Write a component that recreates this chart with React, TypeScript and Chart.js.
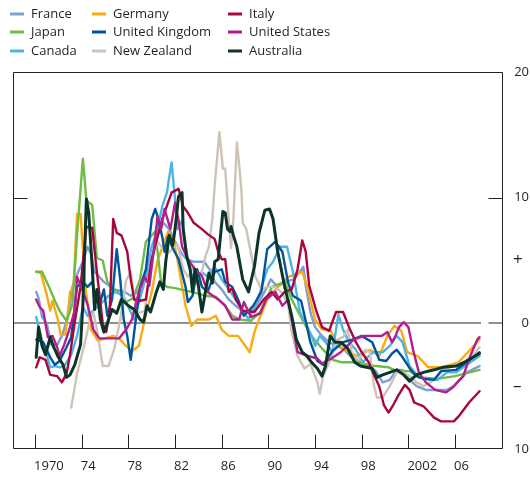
import React, { useEffect, useRef } from "react";
import { Chart, registerables } from "chart.js";

Chart.register(...registerables);

// ---- Data: [year, value] pairs ----
const france: [number, number][] = [
  [1970.1, 2.5], [1970.3, 2.0], [1970.6, 0.5], [1971.0, 0.0], [1971.4, -1.7], [1971.9, -1.7], [1972.3, -1.0], [1972.8, 0.5], [1973.2, 2.9], [1973.7, 4.1],
  [1974.1, 4.9], [1974.5, 6.1], [1974.8, 5.5], [1975.1, 4.1], [1975.9, 3.3], [1976.8, 2.7], [1977.7, 2.5], [1978.2, 2.2], [1978.8, 2.5], [1979.5, 3.5],
  [1980.0, 5.0], [1980.5, 7.0], [1981.0, 8.0], [1981.5, 7.5], [1982.0, 6.5], [1982.6, 5.5], [1983.0, 5.1], [1983.6, 4.9], [1984.5, 4.9], [1985.1, 4.1],
  [1985.4, 3.3], [1986.0, 2.7], [1986.6, 1.9], [1987.2, 1.4], [1988.0, 0.8], [1988.7, 1.1], [1989.3, 1.9], [1989.9, 2.9], [1990.2, 3.5], [1990.8, 2.9],
  [1991.4, 3.3], [1992.2, 3.5], [1992.7, 4.1], [1993.0, 4.5], [1993.2, 3.0], [1993.6, 0.9], [1994.0, -0.3], [1994.6, -1.0], [1995.2, -1.5], [1995.9, -1.8],
  [1996.5, -2.1], [1997.0, -2.6], [1997.9, -3.1], [1998.7, -3.4], [1999.2, -3.8], [1999.8, -4.7], [2000.4, -4.5], [2001.0, -3.7], [2001.5, -3.7], [2002.1, -4.5],
  [2002.7, -5.0], [2003.5, -5.3], [2004.3, -5.3], [2005.3, -5.3], [2005.9, -5.0], [2006.4, -4.5], [2007.0, -3.9], [2008.1, -3.4],
];

const germany: [number, number][] = [
  [1970.1, 4.1], [1970.5, 4.0], [1971.0, 2.3], [1971.3, 1.0], [1971.5, 1.8], [1971.9, 0.5], [1972.2, -0.9], [1972.6, -0.9], [1972.8, 0.7], [1973.0, 2.5],
  [1973.3, 2.9], [1973.6, 8.7], [1973.9, 8.7], [1974.3, 3.0], [1974.8, -0.5], [1975.4, -1.4], [1976.0, -1.2], [1976.7, -1.0], [1977.2, -1.2], [1977.8, -1.8],
  [1978.3, -2.2], [1978.9, -1.8], [1979.4, 0.3], [1980.0, 2.5], [1980.5, 5.0], [1981.4, 7.3], [1981.9, 6.5], [1982.2, 5.1], [1982.9, 1.4], [1983.4, -0.2],
  [1983.9, 0.3], [1984.9, 0.3], [1985.5, 0.6], [1986.0, -0.5], [1986.6, -1.0], [1987.4, -1.0], [1987.8, -1.5], [1988.4, -2.3], [1988.8, -0.7], [1989.2, 0.3],
  [1989.9, 1.9], [1990.8, 2.9], [1991.7, 3.7], [1992.9, 4.1], [1993.3, 3.0], [1994.0, 0.3], [1994.6, -0.5], [1995.3, -0.5], [1995.8, -1.5], [1996.5, -2.1],
  [1997.6, -2.6], [1998.7, -2.1], [1999.5, -2.6], [2000.2, -1.0], [2000.8, -0.2], [2001.4, -0.6], [2001.9, -2.3], [2002.8, -2.6], [2003.7, -3.5], [2004.8, -3.5],
  [2006.3, -3.1], [2007.1, -2.3], [2008.1, -1.3],
];

const italy: [number, number][] = [
  [1970.1, -3.5], [1970.4, -2.7], [1970.9, -2.9], [1971.3, -4.1], [1971.9, -4.2], [1972.3, -4.7], [1972.7, -4.0], [1973.0, -2.5], [1973.4, 0.1], [1973.9, 2.9],
  [1974.4, 7.7], [1974.9, 7.6], [1975.3, 4.1], [1975.8, 0.0], [1976.1, -0.7], [1976.4, 1.0], [1976.7, 8.3], [1977.0, 7.2], [1977.4, 7.0], [1977.9, 5.7],
  [1978.2, 3.5], [1978.5, 1.9], [1979.0, 1.8], [1979.5, 1.9], [1980.0, 5.1], [1980.9, 8.3], [1981.7, 10.4], [1982.3, 10.7], [1982.7, 9.3], [1983.1, 8.8],
  [1983.6, 8.0], [1984.3, 7.5], [1984.8, 7.1], [1985.4, 6.7], [1985.7, 5.7], [1986.0, 5.1], [1986.3, 5.1], [1986.6, 2.5], [1986.9, 2.8], [1987.2, 1.9],
  [1987.8, 1.0], [1988.8, 0.9], [1989.6, 1.9], [1990.3, 2.5], [1990.8, 1.9], [1991.4, 2.5], [1992.0, 2.7], [1992.5, 4.3], [1992.9, 6.6], [1993.2, 5.7],
  [1993.5, 3.0], [1994.1, 1.0], [1994.6, -0.3], [1995.2, -0.6], [1995.8, 0.9], [1996.4, 0.9], [1997.0, -0.5], [1997.5, -1.5], [1998.0, -2.3], [1998.6, -3.1],
  [1999.1, -4.2], [1999.5, -5.0], [1999.9, -6.5], [2000.3, -7.1], [2000.7, -6.5], [2001.1, -5.8], [2001.7, -4.9], [2002.1, -5.3], [2002.5, -6.3], [2003.3, -6.6],
  [2004.2, -7.5], [2004.8, -7.8], [2005.9, -7.8], [2006.4, -7.3], [2007.2, -6.3], [2008.1, -5.4],
];

const japan: [number, number][] = [
  [1970.1, 4.1], [1970.6, 4.1], [1971.2, 2.9], [1971.7, 1.8], [1972.1, 1.0], [1972.7, 0.2], [1973.2, 1.5], [1973.6, 7.0], [1974.1, 13.1], [1974.4, 9.8],
  [1974.9, 9.4], [1975.3, 5.2], [1975.8, 5.0], [1976.2, 3.3], [1976.7, 2.7], [1977.4, 2.5], [1977.8, 1.7], [1978.4, 2.0], [1979.0, 3.5], [1979.5, 6.5],
  [1980.3, 7.3], [1980.8, 3.3], [1981.3, 2.9], [1982.0, 2.8], [1983.4, 2.5], [1984.6, 2.2], [1985.5, 2.1], [1986.3, 1.4], [1986.9, 0.6], [1987.6, 0.3],
  [1988.5, 0.2], [1989.3, 0.9], [1990.3, 2.9], [1991.4, 3.3], [1992.0, 1.9], [1992.9, 0.3], [1993.7, -1.0], [1994.6, -2.0], [1995.5, -2.9], [1996.3, -3.1],
  [1997.5, -3.1], [1999.2, -3.4], [2000.3, -3.5], [2001.0, -3.8], [2002.1, -3.8], [2002.9, -4.3], [2004.6, -4.4], [2006.0, -4.2], [2008.1, -3.7],
];

const unitedKingdom: [number, number][] = [
  [1970.1, -1.3], [1970.7, -1.5], [1971.3, -2.7], [1971.7, -3.3], [1972.1, -3.0], [1972.7, -1.9], [1973.1, -1.1], [1973.6, 2.9], [1974.1, 3.3], [1974.5, 2.9],
  [1974.9, 3.3], [1975.2, 1.9], [1975.5, 1.4], [1975.9, 2.7], [1976.2, 0.6], [1976.6, 1.9], [1977.0, 5.9], [1977.3, 3.5], [1977.6, 0.3], [1977.9, -1.0],
  [1978.2, -2.9], [1978.5, -0.7], [1979.0, 2.9], [1979.5, 4.3], [1980.0, 8.3], [1980.3, 9.1], [1980.5, 8.5], [1980.9, 6.9], [1981.1, 5.7], [1981.4, 6.9],
  [1981.8, 6.0], [1982.3, 5.1], [1982.9, 2.9], [1983.1, 1.7], [1983.5, 2.2], [1983.9, 4.3], [1984.3, 2.9], [1984.8, 2.5], [1985.4, 4.1], [1986.0, 4.3],
  [1986.3, 3.3], [1986.9, 2.9], [1987.4, 1.9], [1987.9, 0.6], [1988.7, 1.4], [1989.4, 2.5], [1989.9, 5.9], [1990.6, 6.5], [1991.2, 5.7], [1991.7, 3.2],
  [1992.1, 2.2], [1992.8, 1.8], [1993.1, 0.6], [1993.6, -1.5], [1994.2, -3.0], [1994.7, -3.3], [1995.5, -2.2], [1996.4, -1.5], [1997.2, -1.3], [1998.0, -1.0],
  [1998.9, -1.5], [1999.5, -2.9], [2000.1, -3.0], [2000.6, -2.4], [2001.0, -2.1], [2001.5, -2.7], [2002.2, -3.7], [2002.7, -4.2], [2003.3, -4.4], [2004.2, -4.5],
  [2004.8, -3.8], [2006.1, -3.7], [2007.0, -3.1], [2008.1, -2.3],
];

const unitedStates: [number, number][] = [
  [1970.1, 1.9], [1970.4, 1.3], [1970.7, 1.0], [1971.1, -1.1], [1971.5, -1.0], [1971.9, -1.9], [1972.1, -2.6], [1972.5, -1.7], [1972.9, -0.6], [1973.4, 1.0],
  [1973.6, 3.7], [1974.0, 2.8], [1974.5, 1.5], [1975.0, -0.5], [1975.5, -1.2], [1976.5, -1.2], [1977.2, -1.2], [1977.8, -0.5], [1978.3, 0.3], [1978.9, 2.5],
  [1979.4, 3.7], [1979.8, 3.0], [1980.2, 6.0], [1980.5, 8.5], [1980.8, 7.5], [1981.1, 9.1], [1981.6, 7.5], [1982.0, 9.6], [1982.3, 8.2], [1982.6, 6.1],
  [1983.1, 5.1], [1983.7, 4.3], [1984.3, 3.8], [1984.8, 2.5], [1985.7, 1.9], [1986.3, 1.4], [1986.9, 0.3], [1987.5, 0.3], [1987.9, 1.7], [1988.5, 0.5],
  [1989.3, 0.8], [1989.8, 1.9], [1990.6, 2.5], [1991.2, 1.4], [1991.7, 1.9], [1992.0, 0.3], [1992.5, -2.3], [1993.4, -2.6], [1994.2, -2.8], [1994.6, -3.2],
  [1995.4, -2.8], [1996.2, -2.3], [1997.3, -1.3], [1998.2, -1.0], [1999.7, -1.0], [2000.2, -0.7], [2000.6, -1.5], [2000.9, -1.0], [2001.2, -0.3], [2001.6, 0.1],
  [2002.0, -0.3], [2002.4, -2.1], [2002.9, -3.9], [2003.5, -4.7], [2004.3, -5.3], [2005.2, -5.5], [2005.8, -5.1], [2006.7, -4.2], [2007.3, -2.6], [2007.9, -1.3],
  [2008.1, -1.1],
];

const canada: [number, number][] = [
  [1970.1, 0.5], [1970.3, -0.3], [1970.6, -1.4], [1971.0, -2.5], [1971.3, -3.5], [1971.7, -3.4], [1972.1, -3.5], [1972.5, -3.4], [1973.1, -2.5], [1973.6, -1.0],
  [1974.1, 1.3], [1974.5, 0.6], [1975.2, 1.2], [1975.8, 1.7], [1976.3, 2.2], [1976.9, 2.5], [1977.5, 2.2], [1978.0, 1.3], [1978.5, 0.3], [1979.0, 2.0],
  [1979.5, 3.7], [1980.0, 6.1], [1980.5, 7.5], [1980.9, 9.3], [1981.3, 10.4], [1981.7, 12.8], [1982.0, 9.9], [1982.2, 7.5], [1982.6, 8.2], [1982.9, 6.1],
  [1983.3, 4.1], [1983.7, 3.5], [1984.3, 4.1], [1984.8, 3.7], [1985.4, 4.5], [1986.0, 3.5], [1986.6, 2.7], [1987.2, 1.9], [1987.8, 1.1], [1988.3, 0.3],
  [1988.8, 1.3], [1989.3, 2.5], [1989.9, 4.3], [1990.4, 4.9], [1991.0, 6.1], [1991.6, 6.1], [1992.1, 4.1], [1992.7, 0.9], [1993.3, -0.2], [1993.7, -1.0],
  [1994.0, -1.8], [1994.4, -1.0], [1994.9, -1.5], [1995.5, -2.3], [1996.0, 0.7], [1996.4, -0.5], [1996.9, -1.5], [1997.5, -2.1], [1998.1, -3.1], [1998.6, -2.6],
  [1999.0, -2.3], [1999.8, -2.3], [2000.4, -1.8], [2001.0, -1.0], [2001.5, -1.5], [2002.1, -3.4], [2002.9, -4.3], [2003.8, -4.5], [2004.5, -4.5], [2005.3, -3.9],
  [2006.1, -3.9], [2007.0, -3.3], [2008.1, -2.6],
];

const newZealand: [number, number][] = [
  [1973.1, -6.7], [1973.6, -4.0], [1974.2, -1.8], [1974.7, 0.2], [1975.0, 0.9], [1975.4, -1.0], [1975.8, -3.4], [1976.3, -3.4], [1976.8, -2.0], [1977.3, 0.3],
  [1977.8, 3.4], [1978.2, 4.1], [1978.5, 2.0], [1978.8, 0.8], [1979.4, 1.0], [1980.0, 5.1], [1980.5, 6.5], [1981.3, 5.5], [1982.2, 6.3], [1982.7, 4.3],
  [1983.1, 3.7], [1983.6, 4.5], [1984.0, 3.0], [1984.6, 5.3], [1984.9, 6.1], [1985.2, 8.3], [1985.4, 11.0], [1985.8, 15.2], [1986.1, 12.3], [1986.3, 12.3],
  [1986.6, 8.3], [1986.8, 6.0], [1987.0, 8.3], [1987.3, 14.4], [1987.5, 12.6], [1987.7, 10.4], [1987.8, 8.0], [1988.1, 7.5], [1988.4, 6.1], [1988.6, 5.1],
  [1988.9, 3.7], [1989.4, 2.7], [1989.9, 2.9], [1990.6, 2.9], [1991.2, 2.4], [1991.7, 1.4], [1992.0, -0.7], [1992.5, -2.6], [1993.1, -3.6], [1993.6, -3.2],
  [1994.2, -4.7], [1994.4, -5.6], [1994.7, -4.2], [1995.3, -2.9], [1995.9, -1.3], [1996.4, -1.1], [1996.8, -0.5], [1997.2, -2.6], [1997.7, -2.9], [1998.3, -2.1],
  [1998.7, -2.3], [1999.0, -4.7], [1999.3, -5.9], [1999.8, -5.9], [2000.4, -5.0], [2001.0, -3.9], [2001.5, -3.9], [2002.1, -4.2], [2002.7, -4.7], [2003.3, -5.0],
  [2003.9, -4.7], [2004.5, -4.2], [2005.0, -3.7], [2005.8, -3.4], [2006.7, -3.1], [2007.5, -2.6], [2008.1, -1.9],
];

const australia: [number, number][] = [
  [1970.1, -2.7], [1970.3, -0.3], [1970.6, -1.8], [1970.9, -2.5], [1971.3, -1.1], [1971.6, -1.9], [1972.0, -2.7], [1972.4, -3.3], [1972.7, -4.3], [1973.0, -4.1],
  [1973.4, -3.3], [1973.9, -1.7], [1974.1, 1.5], [1974.4, 9.9], [1974.6, 8.8], [1974.9, 4.5], [1975.1, 1.1], [1975.3, 2.7], [1975.6, 0.3], [1975.9, -0.7],
  [1976.2, 0.0], [1976.6, 1.1], [1977.0, 0.8], [1977.4, 1.9], [1978.0, 1.4], [1978.5, 1.1], [1979.0, 0.3], [1979.3, 0.1], [1979.6, 1.4], [1979.9, 0.9],
  [1980.4, 2.5], [1980.7, 3.3], [1981.0, 2.7], [1981.2, 4.9], [1981.5, 7.0], [1981.8, 6.2], [1982.0, 7.5], [1982.3, 10.1], [1982.6, 10.4], [1982.7, 7.5],
  [1983.0, 5.3], [1983.3, 4.3], [1983.5, 2.5], [1983.7, 4.3], [1984.0, 3.0], [1984.3, 0.9], [1984.6, 2.5], [1984.9, 4.0], [1985.2, 3.2], [1985.4, 4.9],
  [1985.7, 5.1], [1986.1, 8.9], [1986.3, 8.8], [1986.5, 7.5], [1986.7, 7.3], [1986.8, 7.7], [1987.0, 7.0], [1987.3, 6.1], [1987.8, 3.5], [1988.3, 2.5],
  [1988.8, 4.5], [1989.2, 7.2], [1989.7, 9.0], [1990.1, 9.1], [1990.4, 8.3], [1990.8, 5.7], [1991.4, 2.9], [1992.0, 0.6], [1992.4, -1.3], [1992.9, -2.3],
  [1993.3, -2.6], [1993.7, -3.1], [1994.2, -3.6], [1994.6, -4.2], [1994.9, -3.4], [1995.3, -1.0], [1995.7, -1.5], [1996.2, -1.5], [1996.8, -2.0], [1997.4, -3.1],
  [1997.9, -3.4], [1998.9, -3.6], [1999.3, -4.3], [1999.8, -4.1], [2000.4, -3.9], [2001.0, -3.7], [2001.6, -4.1], [2002.1, -4.6], [2002.7, -4.1], [2003.3, -3.9],
  [2004.2, -3.7], [2005.0, -3.5], [2006.1, -3.4], [2007.0, -3.0], [2008.1, -2.4],
];

// ---- Series names, colours ----
const seriesNames = ["France", "Germany", "Italy", "Japan", "United Kingdom", "United States", "Canada", "New Zealand", "Australia"];
const seriesColors = ["#7f9dd6", "#f9ab14", "#a8073e", "#6dbd44", "#00559a", "#b21f8d", "#4fb3e8", "#cdc4b7", "#0c3527"];
const seriesData = [france, germany, italy, japan, unitedKingdom, unitedStates, canada, newZealand, australia];
const seriesDrawOrder = [8, 7, 2, 6, 3, 1, 5, 4, 0]; // lower = drawn on top

// ---- Axis ticks ----
const xTickYears = [1970, 1974, 1978, 1982, 1986, 1990, 1994, 1998, 2002, 2006];
const xTickLabels = ["1970", "74", "78", "82", "86", "90", "94", "98", "2002", "06"];
const yTickValues = [20, 10, 5, 0, -5, -10];
const yTickLabels = ["20", "10", "+", "0", "\u2013", "10"];

const FONT = "13px 'Open Sans', 'Noto Sans', sans-serif";
const SIGN_FONT = "17px 'Open Sans', 'Noto Sans', sans-serif";
const TEXT = "#231f20";

const decorPlugin = {
  id: "decor",
  beforeDatasetsDraw(chart: any) {
    const { ctx, chartArea: a, scales } = chart;
    const y0 = Math.round(scales.y.getPixelForValue(0));
    ctx.save();
    ctx.strokeStyle = "#6d6e71";
    ctx.lineWidth = 1.5;
    ctx.beginPath();
    ctx.moveTo(a.left, y0);
    ctx.lineTo(a.right - 22, y0);
    ctx.stroke();
    ctx.restore();
  },
  afterDatasetsDraw(chart: any) {
    const { ctx, chartArea: a, scales } = chart;
    const xs = scales.x;
    const ys = scales.y;
    const L = Math.round(a.left) + 0.5;
    const R = Math.round(a.right) - 0.5;
    const T = Math.round(a.top) + 0.5;
    const B = Math.round(a.bottom) - 0.5;
    ctx.save();
    ctx.strokeStyle = TEXT;
    ctx.lineWidth = 1;
    ctx.beginPath();
    ctx.moveTo(L, T);
    ctx.lineTo(R, T);
    ctx.lineTo(R, B);
    ctx.lineTo(L, B);
    ctx.closePath();
    ctx.stroke();
    // left tick at 10, right ticks at 10 and 0
    const y10 = Math.round(ys.getPixelForValue(10)) + 0.5;
    const yz = Math.round(ys.getPixelForValue(0));
    ctx.beginPath();
    ctx.moveTo(L, y10); ctx.lineTo(L + 14, y10);
    ctx.moveTo(R, y10); ctx.lineTo(R - 14, y10);
    ctx.stroke();
    ctx.strokeStyle = "#6d6e71";
    ctx.lineWidth = 1.5;
    ctx.beginPath();
    ctx.moveTo(R, yz); ctx.lineTo(R - 14, yz);
    ctx.stroke();
    // bottom ticks
    ctx.strokeStyle = TEXT;
    ctx.lineWidth = 1;
    ctx.beginPath();
    xTickYears.forEach((yr) => {
      const px = Math.round(xs.getPixelForValue(yr)) + 0.5;
      ctx.moveTo(px, B); ctx.lineTo(px, B - 14);
    });
    ctx.stroke();
    // x labels
    ctx.fillStyle = TEXT;
    ctx.font = FONT;
    ctx.textBaseline = "middle";
    ctx.textAlign = "left";
    xTickYears.forEach((yr, i) => {
      const px = xs.getPixelForValue(yr);
      ctx.fillText(xTickLabels[i], px - 1, a.bottom + 17);
    });
    // y labels on the right
    yTickValues.forEach((v, i) => {
      const py = ys.getPixelForValue(v);
      const lab = yTickLabels[i];
      if (lab === "+" || lab === "\u2013") {
        ctx.font = SIGN_FONT;
        ctx.textAlign = "left";
        ctx.fillText(lab, a.right + 10, py);
        ctx.font = FONT;
      } else {
        ctx.textAlign = "right";
        ctx.fillText(lab, 529, py);
      }
    });
    // legend (3 columns)
    const colX = [10, 92, 228];
    const rowY = [14, 32, 51];
    seriesNames.forEach((name, i) => {
      const c = i % 3;
      const r = Math.floor(i / 3);
      const x0 = colX[c];
      const yy = rowY[r];
      ctx.strokeStyle = seriesColors[i];
      ctx.lineWidth = 3;
      ctx.beginPath();
      ctx.moveTo(x0, yy);
      ctx.lineTo(x0 + 14, yy);
      ctx.stroke();
      ctx.fillStyle = TEXT;
      ctx.textAlign = "left";
      ctx.fillText(name, x0 + 21, yy);
    });
    ctx.restore();
  },
};

export default function App() {
  const ref = useRef<HTMLCanvasElement | null>(null);
  useEffect(() => {
    if (!ref.current) return;
    const datasets = seriesNames.map((name, i) => ({
      label: name,
      data: seriesData[i].map(([x, y]) => ({ x, y })),
      borderColor: seriesColors[i],
      backgroundColor: seriesColors[i],
      borderWidth: name === "Australia" ? 3 : 2.4,
      pointRadius: 0,
      tension: 0,
      fill: false,
      order: seriesDrawOrder[i],
      borderJoinStyle: "round" as const,
      borderCapStyle: "round" as const,
    }));
    const chart = new Chart(ref.current, {
      type: "line",
      data: { datasets },
      options: {
        responsive: false,
        animation: false,
        layout: { padding: { left: 13, right: 27, top: 72, bottom: 28 } },
        plugins: { legend: { display: false }, tooltip: { enabled: false } },
        scales: {
          x: { type: "linear", min: 1968.11, max: 2010.11, display: false },
          y: { type: "linear", min: -10, max: 20, display: false },
        },
      },
      plugins: [decorPlugin],
    });
    let alive = true;
    if ((document as any).fonts) {
      (document as any).fonts.load("13px 'Open Sans'").then(() => {
        if (alive) chart.draw();
      });
    }
    return () => {
      alive = false;
      chart.destroy();
    };
  }, []);
  return (
    <div style={{ position: "fixed", left: 0, top: 0, width: 530, height: 477, background: "#fff" }}>
      <canvas ref={ref} width={530} height={477} style={{ display: "block" }} />
    </div>
  );
}
